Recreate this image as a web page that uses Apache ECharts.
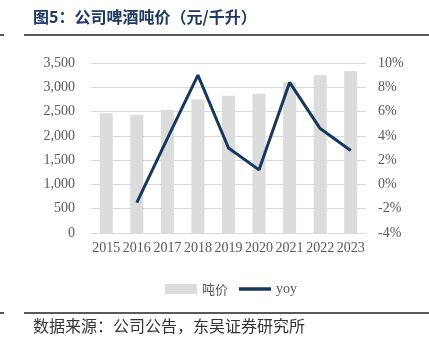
<!DOCTYPE html>
<html><head><meta charset="utf-8">
<script src="https://cdn.jsdelivr.net/npm/echarts@6/dist/echarts.min.js"></script>
<style>html,body{margin:0;padding:0;background:#fff;}#c{width:429px;height:355px;}</style>
</head><body><div id="c"></div>
<script>
const categories = ['2015','2016','2017','2018','2019','2020','2021','2022','2023'];
const pricePerKL = [2464, 2430, 2532, 2752, 2827, 2868, 3109, 3247, 3335];
const yoyPct = [null, -1.5, 3.8, 9.0, 3.0, 1.2, 8.4, 4.6, 2.8];
const leftTicks = {min: 0, max: 3500, interval: 500};
const rightTicks = {min: -4, max: 10, interval: 2};

const chart = echarts.init(document.getElementById('c'), null, {renderer: 'canvas'});
const serif = '"Liberation Serif", "Times New Roman", serif';
const cjk = '"Noto Sans CJK SC", sans-serif';
chart.setOption({
  animation: false,
  graphic: [
    {type: 'text', left: 33, top: 9, style: {text: '图5：公司啤酒吨价（元/千升）', fill: '#1F3864', font: 'bold 16px "Noto Sans CJK SC", sans-serif'}},
    {type: 'line', shape: {x1: 0, y1: 35, x2: 4, y2: 35}, style: {stroke: '#222', lineWidth: 1.5}},
    {type: 'line', shape: {x1: 24, y1: 35, x2: 429, y2: 35}, style: {stroke: '#222', lineWidth: 1.5}},
    {type: 'line', shape: {x1: 0, y1: 313, x2: 4, y2: 313}, style: {stroke: '#222', lineWidth: 1.5}},
    {type: 'line', shape: {x1: 24, y1: 313, x2: 429, y2: 313}, style: {stroke: '#222', lineWidth: 1.5}},
    {type: 'text', left: 33, top: 318, style: {text: '数据来源：公司公告，东吴证券研究所', fill: '#333', font: '16px "Noto Sans CJK SC", sans-serif'}}
  ],
  grid: {left: 91, right: 63, top: 63, bottom: 122},
  legend: {
    top: 277, left: 160, itemGap: 11, itemWidth: 32, itemHeight: 10,
    textStyle: {color: '#595959', fontSize: 14, fontFamily: serif},
    data: [
      {name: '吨价', icon: 'rect', textStyle: {fontFamily: cjk, fontSize: 13}},
      {name: 'yoy', icon: 'path://M0,0 L32,0 L32,3.5 L0,3.5 Z'}
    ]
  },
  xAxis: {
    type: 'category', data: categories,
    axisLine: {lineStyle: {color: '#d9d9d9', width: 1}},
    axisTick: {show: false},
    axisLabel: {color: '#595959', fontSize: 14, fontFamily: serif, margin: 8, interval: 0}
  },
  yAxis: [
    {type: 'value', min: leftTicks.min, max: leftTicks.max, interval: leftTicks.interval,
     axisLine: {show: false}, axisTick: {show: false},
     splitLine: {lineStyle: {color: '#d9d9d9', width: 1}},
     axisLabel: {color: '#595959', fontSize: 14, fontFamily: serif, margin: 16,
       formatter: v => v.toLocaleString('en-US')}},
    {type: 'value', min: rightTicks.min, max: rightTicks.max, interval: rightTicks.interval,
     axisLine: {show: false}, axisTick: {show: false}, splitLine: {show: false},
     axisLabel: {color: '#595959', fontSize: 14, fontFamily: serif, margin: 12, formatter: '{value}%'}}
  ],
  series: [
    {name: '吨价', type: 'bar', data: pricePerKL, barWidth: 13, itemStyle: {color: '#dcdcdc'}},
    {name: 'yoy', type: 'line', yAxisIndex: 1, data: yoyPct, symbol: 'none',
     lineStyle: {color: '#17375E', width: 3}, itemStyle: {color: '#17375E'}}
  ]
});
</script></body></html>
